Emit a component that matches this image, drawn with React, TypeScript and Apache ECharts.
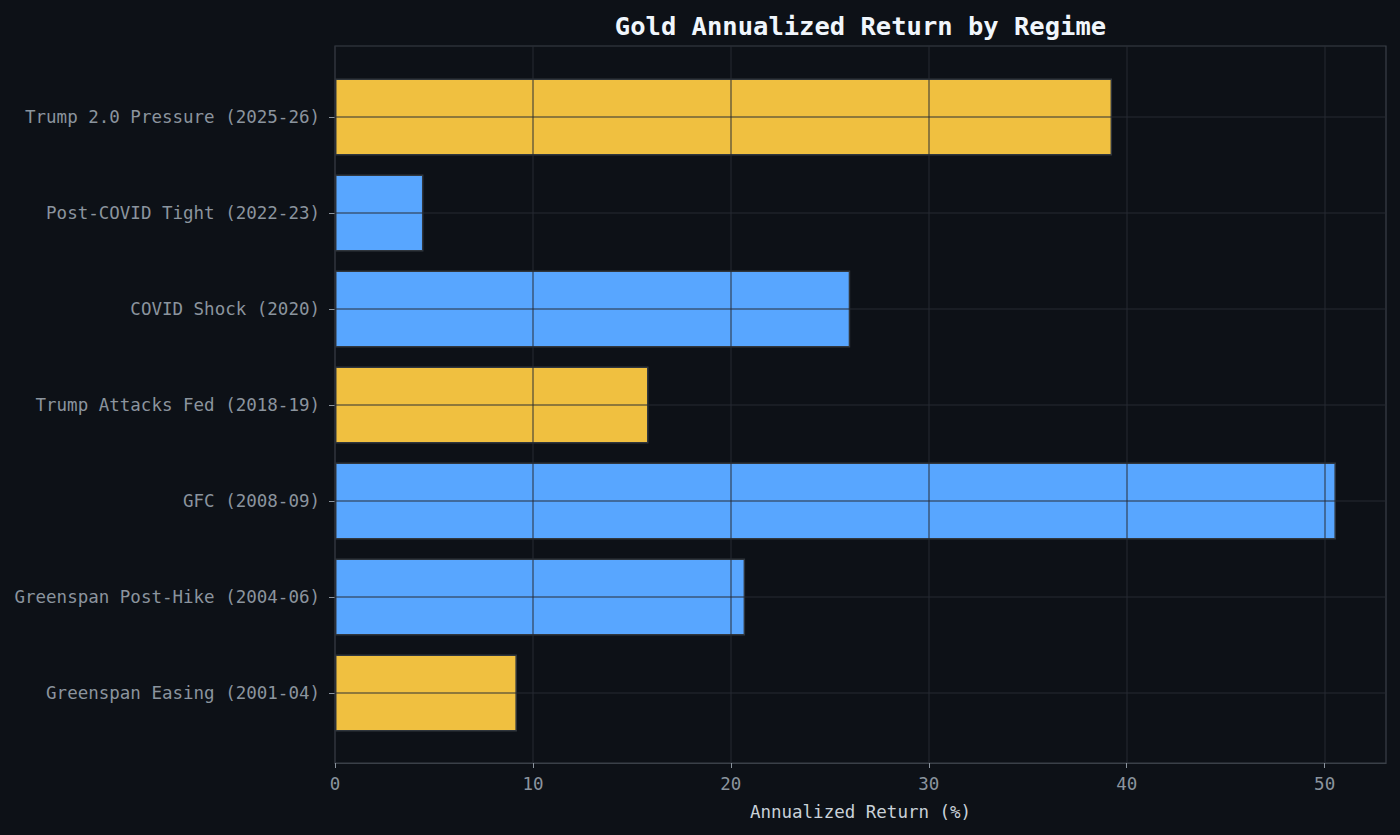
import React, { useEffect, useRef } from "react";
import * as echarts from "echarts";

// Categories listed bottom-to-top (ECharts category y axis starts at the bottom)
const categories = [
  "Greenspan Easing (2001-04)",
  "Greenspan Post-Hike (2004-06)",
  "GFC (2008-09)",
  "Trump Attacks Fed (2018-19)",
  "COVID Shock (2020)",
  "Post-COVID Tight (2022-23)",
  "Trump 2.0 Pressure (2025-26)",
];
const annualizedReturn = [9.19, 20.72, 50.57, 15.84, 26.03, 4.47, 39.26];
const regimeKind = ["pressure", "normal", "normal", "pressure", "normal", "normal", "pressure"];
const xTickValues = [0, 10, 20, 30, 40, 50];
const xMax = 53.1;

const FONT = "'DejaVu Sans Mono', monospace";
const BG = "#0d1117";
const FRAME = "#3a4048";
const GRID_LINE = "rgba(40,45,52,0.65)";
const TICK_TEXT = "#8b949e";
const KIND_COLOR: Record<string, string> = { pressure: "#f0c040", normal: "#58a6ff" };

export default function App() {
  const ref = useRef<HTMLDivElement>(null);

  useEffect(() => {
    if (!ref.current) return;
    const chart = echarts.init(ref.current, undefined, { renderer: "svg" });
    const option: any = {
      animation: false,
      backgroundColor: BG,
      textStyle: { fontFamily: FONT },
      graphic: [
        {
          type: "text",
          x: 860.5,
          y: 26,
          style: {
            text: "Gold Annualized Return by Regime",
            fill: "#f0f6fc",
            fontFamily: FONT,
            fontSize: 25.5,
            fontWeight: "bold",
            align: "center",
            verticalAlign: "middle",
          },
        },
      ],
      grid: [
        {
          left: 335,
          top: 46,
          width: 1051,
          height: 717,
          show: true,
          borderColor: FRAME,
          borderWidth: 1.2,
          backgroundColor: "transparent",
        },
        { left: 335, top: 69, width: 1051, height: 672 },
      ],
      xAxis: [
        {
          gridIndex: 0,
          type: "value",
          min: 0,
          max: xMax,
          interval: 10,
          z: 5,
          axisLine: { show: true, lineStyle: { color: FRAME, width: 1.2 } },
          axisTick: { show: true, length: 5, lineStyle: { color: TICK_TEXT }, customValues: xTickValues },
          axisLabel: {
            color: TICK_TEXT,
            fontSize: 17.5,
            fontFamily: FONT,
            margin: 12,
            customValues: xTickValues,
          },
          splitLine: { show: true, lineStyle: { color: GRID_LINE, width: 1.5 } },
          name: "Annualized Return (%)",
          nameLocation: "middle",
          nameGap: 40,
          nameTextStyle: { color: "#c9d1d9", fontSize: 17.5, fontFamily: FONT },
        },
        { gridIndex: 1, type: "value", min: 0, max: xMax, show: false },
      ],
      yAxis: [
        { gridIndex: 0, type: "value", min: 0, max: 1, show: false },
        {
          gridIndex: 1,
          type: "category",
          data: categories,
          axisLine: { show: false },
          axisTick: { show: true, alignWithLabel: true, length: 6, lineStyle: { color: TICK_TEXT } },
          axisLabel: { color: TICK_TEXT, fontSize: 17.5, fontFamily: FONT, margin: 15 },
          splitLine: { show: false },
        },
      ],
      series: [
        {
          type: "bar",
          xAxisIndex: 1,
          yAxisIndex: 1,
          barCategoryGap: "20%",
          data: annualizedReturn.map((v, i) => ({
            value: v,
            itemStyle: { color: KIND_COLOR[regimeKind[i]] },
          })),
          itemStyle: { borderColor: "#30363d", borderWidth: 1.5 },
          markLine: {
            silent: true,
            symbol: "none",
            label: { show: false },
            lineStyle: { color: GRID_LINE, width: 1.5, type: "solid" },
            emphasis: { disabled: true },
            data: categories.map((c) => ({ yAxis: c })),
          },
        },
      ],
    };
    chart.setOption(option);
    return () => chart.dispose();
  }, []);

  return (
    <div
      ref={ref}
      style={{ position: "fixed", left: 0, top: 0, width: 1400, height: 835, background: BG }}
    />
  );
}
